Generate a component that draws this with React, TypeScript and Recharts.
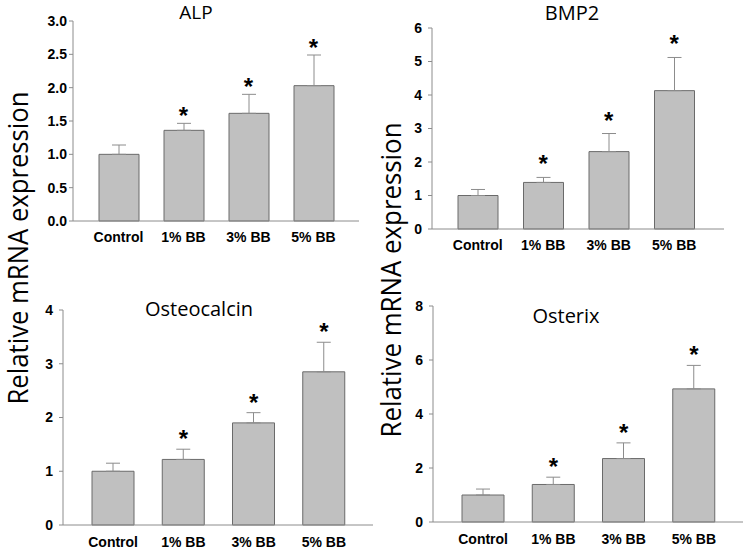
import { ComposedChart, Bar, ErrorBar, Line, XAxis, YAxis } from 'recharts';

const groups = ['Control', '1% BB', '3% BB', '5% BB'];
const significant = [false, true, true, true];

const alpMean = [1.0, 1.36, 1.615, 2.03];
const alpErr = [0.14, 0.105, 0.285, 0.46];
const alpTicks = [0, 0.5, 1.0, 1.5, 2.0, 2.5, 3.0];

const bmp2Mean = [1.0, 1.39, 2.31, 4.13];
const bmp2Err = [0.18, 0.15, 0.54, 0.99];
const bmp2Ticks = [0, 1, 2, 3, 4, 5, 6];

const ocnMean = [1.0, 1.22, 1.9, 2.85];
const ocnErr = [0.15, 0.19, 0.19, 0.55];
const ocnTicks = [0, 1, 2, 3, 4];

const osxMean = [1.0, 1.39, 2.35, 4.93];
const osxErr = [0.22, 0.27, 0.58, 0.87];
const osxTicks = [0, 2, 4, 6, 8];

const axisGrey = '#8c8c8c';
const tickFont = { fill: '#000', fontSize: 14, fontWeight: 'bold', fontFamily: 'Liberation Sans, Arial, sans-serif' };
const titleFont = 'Open Sans, sans-serif';

function buildRows(means: number[], errs: number[]) {
  return groups.map((name, i) => ({
    name,
    mean: means[i],
    err: [0, errs[i]],
    top: means[i] + errs[i],
    sig: significant[i],
  }));
}

// asterisk centred `gap` px above the error bar top
function starDot(gap: number) {
  return (props: any) => {
    const { cx, cy, index, payload } = props;
    if (!payload || !payload.sig || cy == null) return <g key={'s' + index} />;
    return (
      <text
        key={'s' + index}
        x={cx}
        y={cy - gap + 14}
        textAnchor="middle"
        fontSize={24}
        fontWeight="bold"
        fontFamily="Liberation Sans, Arial, sans-serif"
        fill="#000"
      >
        *
      </text>
    );
  };
}

type PanelProps = {
  means: number[];
  errs: number[];
  ticks: number[];
  decimals: number;
  left: number;
  top: number;
  width: number;
  height: number;
  margin: { top: number; right: number; bottom: number; left: number };
  yWidth: number;
  xHeight: number;
  pad: { left: number; right: number };
  barSize: number;
  tickGap: number;
  xGap: number;
  starGap: number;
};

function Panel(p: PanelProps) {
  const rows = buildRows(p.means, p.errs);
  const max = p.ticks[p.ticks.length - 1];
  return (
    <div style={{ position: 'absolute', left: p.left, top: p.top }}>
      <ComposedChart width={p.width} height={p.height} data={rows} margin={p.margin}>
        <XAxis
          dataKey="name"
          axisLine={{ stroke: axisGrey }}
          tickLine={false}
          tickSize={0}
          tickMargin={p.xGap}
          height={p.xHeight}
          padding={p.pad}
          interval={0}
          tick={tickFont}
        />
        <YAxis
          type="number"
          domain={[0, max]}
          ticks={p.ticks}
          interval={0}
          width={p.yWidth}
          axisLine={{ stroke: axisGrey }}
          tickLine={{ stroke: axisGrey }}
          tickSize={4}
          tickMargin={p.tickGap}
          tickFormatter={(v: number) => v.toFixed(p.decimals)}
          tick={tickFont}
        />
        <Bar dataKey="mean" fill="#c0c0c0" stroke="#6a6a6a" strokeWidth={1} barSize={p.barSize} isAnimationActive={false}>
          <ErrorBar dataKey="err" width={7} stroke={axisGrey} strokeWidth={1} direction="y" isAnimationActive={false} />
        </Bar>
        <Line
          dataKey="top"
          stroke="none"
          dot={starDot(p.starGap)}
          activeDot={false}
          isAnimationActive={false}
          legendType="none"
        />
      </ComposedChart>
    </div>
  );
}

export default function App() {
  return (
    <div style={{ position: 'absolute', left: 0, top: 0, width: 747, height: 552, background: '#fff', overflow: 'hidden' }}>
      <Panel
        means={alpMean} errs={alpErr} ticks={alpTicks} decimals={1}
        left={0} top={0} width={370} height={276}
        margin={{ top: 21, right: 11, bottom: 25, left: 28 }}
        yWidth={45} xHeight={30} pad={{ left: 13, right: 13 }}
        barSize={40} tickGap={2} xGap={11} starGap={13}
      />
      <Panel
        means={bmp2Mean} errs={bmp2Err} ticks={bmp2Ticks} decimals={0}
        left={370} top={0} width={377} height={276}
        margin={{ top: 28, right: 23, bottom: 17, left: 22 }}
        yWidth={40} xHeight={30} pad={{ left: 13, right: 17 }}
        barSize={40} tickGap={6} xGap={11} starGap={19}
      />
      <Panel
        means={ocnMean} errs={ocnErr} ticks={ocnTicks} decimals={0}
        left={0} top={276} width={380} height={276}
        margin={{ top: 34, right: 7, bottom: 3, left: 23 }}
        yWidth={40} xHeight={24} pad={{ left: 15, right: 14 }}
        barSize={42} tickGap={6} xGap={12} starGap={16}
      />
      <Panel
        means={osxMean} errs={osxErr} ticks={osxTicks} decimals={0}
        left={370} top={276} width={377} height={276}
        margin={{ top: 30, right: 4, bottom: 6, left: 23 }}
        yWidth={40} xHeight={24} pad={{ left: 15, right: 14 }}
        barSize={42} tickGap={6} xGap={12} starGap={16}
      />
      <svg width={747} height={552} style={{ position: 'absolute', left: 0, top: 0, pointerEvents: 'none' }}>
        <text x={196} y={19} textAnchor="middle" fontSize={19} fontFamily={titleFont} fill="#000">ALP</text>
        <text x={572} y={20} textAnchor="middle" fontSize={20} fontFamily={titleFont} fill="#000">BMP2</text>
        <text x={199} y={316} textAnchor="middle" fontSize={20} fontFamily={titleFont} fill="#000">Osteocalcin</text>
        <text x={566} y={323} textAnchor="middle" fontSize={20} fontFamily={titleFont} fill="#000">Osterix</text>
        <text
          x={28} y={248} textAnchor="middle" fontSize={27} fontFamily={titleFont} fill="#000"
          transform="rotate(-90 28 248)" textLength={313} lengthAdjust="spacingAndGlyphs"
        >
          Relative mRNA expression
        </text>
        <text
          x={401} y={280} textAnchor="middle" fontSize={27} fontFamily={titleFont} fill="#000"
          transform="rotate(-90 401 280)" textLength={315} lengthAdjust="spacingAndGlyphs"
        >
          Relative mRNA expression
        </text>
      </svg>
    </div>
  );
}
